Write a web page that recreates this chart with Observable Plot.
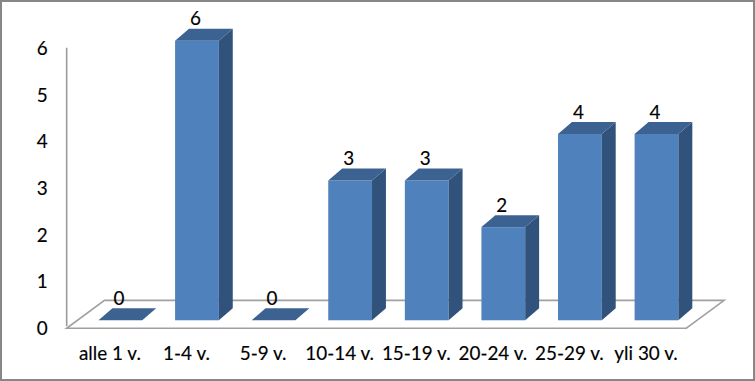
<!DOCTYPE html>
<html>
<head>
<meta charset="utf-8">
<script src="https://cdn.jsdelivr.net/npm/d3@7"></script>
<script src="https://cdn.jsdelivr.net/npm/@observablehq/plot@0.6"></script>
<style>
  html, body { margin: 0; padding: 0; background: #fff; }
  #chart { width: 755px; height: 381px; box-sizing: border-box; border: 2.5px solid #878787; overflow: hidden; position: relative; }
  #chart svg { position: absolute; left: -2.5px; top: -2.5px; }
</style>
</head>
<body>
<div id="chart"></div>
<script>
const categories = ["alle 1 v.", "1-4 v.", "5-9 v.", "10-14 v.", "15-19 v.", "20-24 v.", "25-29 v.", "yli 30 v."];
const values = [0, 6, 0, 3, 3, 2, 4, 4];
const yTicks = [0, 1, 2, 3, 4, 5, 6];

const data = categories.map((c, i) => ({category: c, value: values[i]}));

const FONT = "Lato, 'Open Sans', sans-serif";
const FS = 19;
const FRONT = "#4F81BD", TOP = "#3C6292", SIDE = "#31527A";
const BAR_DX = 11;          // bar placed in middle of floor depth
const DEPTH_X = 14, DEPTH_Y = 12;   // bar depth
const FLOOR_FRONT = 8, FLOOR_BACK = 20, FLOOR_DX1 = 37;

function bars3d(index, scales, values, dimensions, context) {
  const g = d3.select(context.document.createElementNS("http://www.w3.org/2000/svg", "g"));
  const xs = scales.x, ys = scales.y;
  const bw = xs.bandwidth();
  const y0 = ys(0);
  const [r0, r1] = xs.range();
  const fl = [[r0 - 1, y0 + FLOOR_FRONT], [r1, y0 + FLOOR_FRONT], [r1 + FLOOR_DX1 + 1, y0 - FLOOR_BACK], [r0 + FLOOR_DX1, y0 - FLOOR_BACK]];
  g.append("path").attr("d", "M" + fl.join("L") + "Z").attr("fill", "#fff").attr("stroke", "#a0a0a0").attr("stroke-width", 1.6);
  g.append("line").attr("x1", r0 - 1).attr("x2", r0 - 1).attr("y1", ys(6) + 7).attr("y2", y0 + 6)
    .attr("stroke", "#9a9a9a").attr("stroke-width", 1.6);
  for (const i of index) {
    const d = data[i];
    const xl = xs(d.category) + BAR_DX, xr = xl + bw;
    const yt = ys(d.value);
    if (d.value > 0) {
      g.append("rect").attr("x", xl).attr("y", yt).attr("width", bw).attr("height", y0 - yt).attr("fill", FRONT);
      const side = [[xr, y0], [xr + DEPTH_X, y0 - DEPTH_Y], [xr + DEPTH_X, yt - DEPTH_Y], [xr, yt]];
      g.append("path").attr("d", "M" + side.join("L") + "Z").attr("fill", SIDE);
    }
    const top = [[xl, yt], [xr, yt], [xr + DEPTH_X, yt - DEPTH_Y], [xl + DEPTH_X, yt - DEPTH_Y]];
    g.append("path").attr("d", "M" + top.join("L") + "Z").attr("fill", TOP);
  }
  return g.node();
}

const textStyle = {lineAnchor: "middle", fontSize: FS, fill: "#000", stroke: "#000", strokeWidth: 0.15, fontFamily: FONT};

const chart = Plot.plot({
  width: 755,
  height: 381,
  marginLeft: 0, marginRight: 0, marginTop: 0, marginBottom: 0,
  style: {fontFamily: FONT, background: "transparent"},
  x: {type: "band", domain: categories, range: [68, 690], paddingInner: 0.434, paddingOuter: 0.217, axis: null},
  y: {domain: [0, 6], range: [322, 41], axis: null},
  marks: [
    Plot.barY(data, {x: "category", y: "value", render: bars3d}),
    Plot.text(data, {x: "category", y: "value", text: d => String(d.value), dx: 9, dy: -22, ...textStyle}),
    Plot.text(yTicks, {y: d => d, text: d => String(d), frameAnchor: "left", dx: 42, dy: 8,
      textAnchor: "middle", ...textStyle}),
    Plot.text(categories, {x: d => d, text: d => d, frameAnchor: "bottom", dy: -26, ...textStyle})
  ]
});
document.getElementById("chart").appendChild(chart);
</script>
</body>
</html>
